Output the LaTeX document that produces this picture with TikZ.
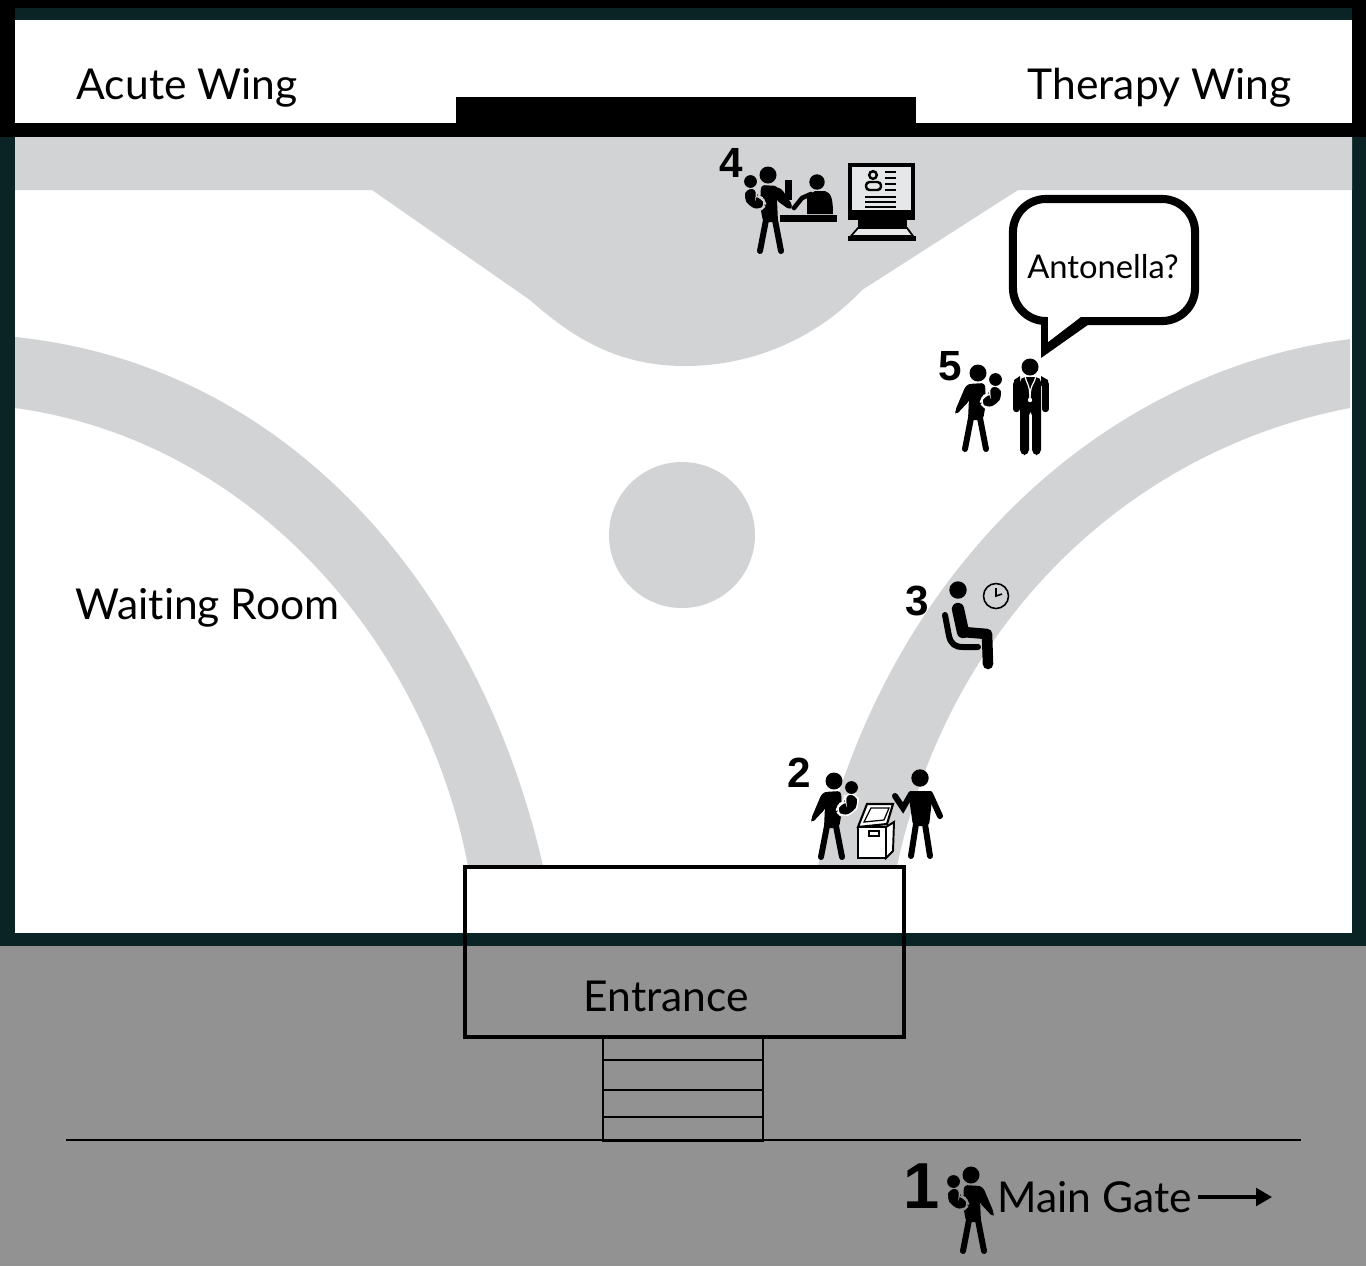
\documentclass[tikz,border=0pt]{standalone}
\usepackage{fontspec}
\setmainfont{Lato}[Ligatures=NoCommon]
\newfontfamily\numfont{Liberation Sans}
\usetikzlibrary{arrows.meta}
\definecolor{walldark}{HTML}{0A2324}
\definecolor{pathgray}{HTML}{D1D3D4}
\definecolor{groundgray}{HTML}{929292}
\definecolor{screengray}{HTML}{E6E7E8}
\colorlet{halo}{white}
\newcommand{\carrierbody}{
  \fill (0,0) circle (8.5);
  \fill [rounded corners=1pt] (-10,11) -- (7,10) -- (8,30) -- (5,47) -- (-10,47) -- (-9,25) -- cycle;
  \draw [limb] (-7,45) -- (-13,76);
  \draw [limb] (2,45) -- (8,76);
  \filldraw [draw=halo,line width=0.4pt,rounded corners=2pt] (10,13) -- (23,13) -- (25,23) -- (20,32) -- (8,36) -- (2,30) -- (5,23) -- (12,21) -- cycle;
  \fill (17.5,6.5) circle (6.4);
}
\tikzset{
  lbl/.style={inner sep=0pt,font=\fontsize{12.1pt}{14pt}\selectfont,anchor=base west},
  num/.style={inner sep=0pt,font=\fontsize{12pt}{14pt}\bfseries\numfont},
  limb/.style={line width=1.7pt,line cap=round},
  wall/.style={fill=black},
  pics/carrier/.style={code={\carrierbody \fill [rounded corners=1pt] (-5,10) -- (-12,12) -- (-23,38) -- (-22,42) -- (-8,27) -- cycle;}},
  pics/carrierbody/.style={code={\carrierbody}},
}
\begin{document}
\begin{tikzpicture}[x=0.01cm,y=-0.01cm]
\useasboundingbox (0,0) rectangle (1366,1266);
% murs et sol
\fill [walldark] (0,8) rectangle (1366,946);
\fill [white] (15,20) rectangle (1352,933);
\fill [groundgray] (0,946) rectangle (1366,1266);
% chemins
\fill [pathgray] (15,137) -- (1352,137) -- (1352,190) -- (1018,190) -- (862,290)
  .. controls (815,340) and (750,366) .. (685,366)
  .. controls (620,366) and (575,340) .. (530,300)
  -- (372,190) -- (15,190) -- cycle;
\fill [pathgray] (15,337) .. controls (290,365) and (480,590) .. (543,866)
  -- (468,866) .. controls (425,640) and (250,440) .. (15,408) -- cycle;
\fill [pathgray] (1350,339) .. controls (1110,370) and (890,560) .. (818,866)
  -- (897,866) .. controls (950,620) and (1130,450) .. (1350,408) -- cycle;
\fill [pathgray] (682,535) circle (73);
% aile du haut
\fill [wall] (0,0) rectangle (1366,8);
\fill [wall] (0,0) rectangle (15,137);
\fill [wall] (1352,0) rectangle (1366,137);
\fill [wall] (0,123) rectangle (1366,137);
\fill [wall] (456,97) rectangle (916,124);
% entrée et marches
\draw [line width=0.9pt] (465,867) rectangle (904,1037);
\draw [line width=0.4pt] (66,1140) -- (1301,1140);
\draw [line width=0.5pt] (603,1037) rectangle (763,1141);
\draw [line width=0.5pt] (603,1060) -- (763,1060);
\draw [line width=0.5pt] (603,1090) -- (763,1090);
\draw [line width=0.5pt] (603,1117) -- (763,1117);
% textes
\node (acute) [lbl] at (76,99) {Acute Wing};
\node (therapy) [lbl] at (1027,99) {Therapy Wing};
\node (waiting) [lbl] at (75,619) {Waiting Room};
\node (entrance) [lbl] at (583,1011) {Entrance};
\node (gate) [lbl] at (997,1212) {Main Gate};
\coordinate (gatetip) at (1272,1197);
\draw [-{Triangle[length=4.5pt,width=5pt]},line width=0.9pt] (1198,1197) -- (gatetip);
% étape 1
\node (one) [num,font=\fontsize{18.5pt}{20pt}\bfseries\numfont] at (922,1186) {1};
\begin{scope}
\colorlet{halo}{groundgray}
\pic [xscale=-1] at (971,1175) {carrier};
\end{scope}
% étape 2
\node (two) [num] at (799,773) {2};
\pic at (834,781) {carrier};
\filldraw [fill=white,line width=0.55pt] (858,827) rectangle (886,858);
\filldraw [fill=white,line width=0.55pt] (886,858) -- (893,851) -- (894,822) -- (886,827) -- cycle;
\filldraw [fill=white,line width=0.6pt] (867,804) -- (893,804) -- (887,824) -- (858,827) -- cycle;
\draw [line width=0.35pt] (871,808) -- (889,808) -- (884,820) -- (864,822) -- cycle;
\draw [line width=0.4pt] (869,831) rectangle (879,836);
\fill (920,778) circle (8.7);
\fill [rounded corners=1pt] (908,791) -- (933,791) -- (929,826) -- (913,826) -- cycle;
\draw [limb] (930,794) -- (940,816);
\draw [limb] (911,794) -- (903,808) -- (895,796);
\draw [limb] (916,824) -- (911,856);
\draw [limb] (925,824) -- (930,856);
% étape 3
\node (three) [num] at (917,601) {3};
\fill (958,590) circle (8.7);
\draw [line width=3.5pt,line cap=round,line join=round] (958,609) -- (963,632);
\draw [line width=3pt,line cap=round,line join=round] (963,632) -- (987,634) -- (988,664);
\draw [line width=1.7pt,line cap=round,line join=round] (945,615) -- (949,636) .. controls (951,644) and (955,647) .. (963,647) -- (978,647);
\draw [line width=0.45pt] (996,596) circle (12.5);
\draw [line width=0.45pt] (996,588) -- (996,596) -- (1002,594);
% étape 4
\node (four) [num] at (731,163) {4};
\begin{scope}
\colorlet{halo}{pathgray}
\pic [xscale=-1] at (768,175) {carrierbody};
\end{scope}
\fill [rounded corners=1pt] (775,187) -- (781,188) -- (793,206) -- (790,210) -- (776,200) -- cycle;
\fill (817,182) circle (7.7);
\fill (807,196) -- (815,191) -- (825,191) .. controls (831,193) and (833,198) .. (833,214) -- (807,214) -- cycle;
\draw [line width=1.3pt,line cap=round,line join=round] (794,208) -- (802,198) -- (811,194);
\fill (785,180) rectangle (792,200);
\fill (780,215) rectangle (837,222);
% poste de travail
\filldraw [fill=screengray,line width=1.1pt] (850,165) rectangle (913,212);
\fill (848,210) rectangle (915,220);
\fill (858,220) rectangle (907,228);
\filldraw [fill=screengray,line width=0.5pt] (858,228) -- (907,228) -- (913,236) -- (851,236) -- cycle;
\fill (848,236) rectangle (916,241);
\draw [line width=0.7pt] (873,175) circle (3.8);
\draw [line width=0.7pt,rounded corners=1pt] (866,190) rectangle (881,182);
\foreach \ry in {172,178,184,190} \draw [line width=0.55pt] (885,\ry) -- (896,\ry);
\foreach \ry in {197,202,207} \draw [line width=0.55pt] (865,\ry) -- (896,\ry);
% étape 5
\node (five) [num] at (950,366) {5};
\pic at (978,373) {carrier};
\fill (1030,367) circle (8.5);
\fill [rounded corners=1.5pt] (1020,377) -- (1041,377) -- (1041,455) -- (1032,455) -- (1032,410) -- (1029,410) -- (1029,455) -- (1020,455) -- cycle;
\fill (1020,376) -- (1014,380) -- (1014,386) -- (1020,386) -- cycle;
\fill (1041,376) -- (1048,380) -- (1048,386) -- (1041,386) -- cycle;
\draw [line width=1.8pt,line cap=round] (1016.5,384) -- (1016.5,409);
\draw [line width=1.8pt,line cap=round] (1045.5,384) -- (1045.5,409);
\draw [white,line width=0.35pt] (1025,376) .. controls (1026,383) and (1030,384) .. (1030,398);
\draw [white,line width=0.35pt] (1036,376) .. controls (1035,383) and (1030,384) .. (1030,398);
\fill [white] (1030,400) circle (2.2);
% bulle
\node (bubble) [draw,line width=2.3pt,rounded corners=0.33cm,minimum width=1.82cm,minimum height=1.22cm] at (1104,260) {};
\fill (1041,320) -- (1041,358) -- (1092,322) -- cycle;
\fill [white] (1048,316) -- (1048,342) -- (1082,316) -- cycle;
\node (name) [inner sep=0pt,font=\fontsize{9.3pt}{11pt}\selectfont] at (1103,267) {Antonella?};
\end{tikzpicture}
\end{document}
